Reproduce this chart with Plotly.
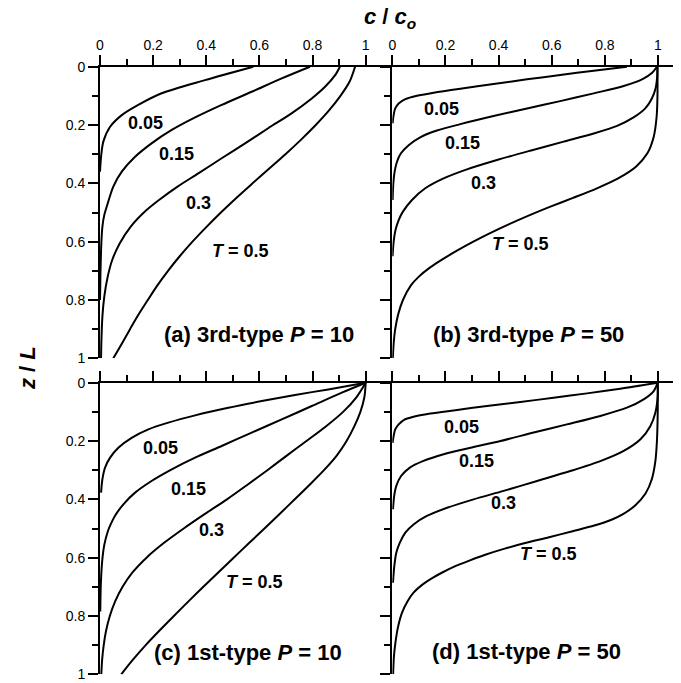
import plotly.graph_objects as go

# ---------------- data ----------------
T_values = ["0.05", "0.15", "0.3", "0.5"]
x_tick_vals = [0, 0.2, 0.4, 0.6, 0.8, 1]
x_tick_text = ["0", "0.2", "0.4", "0.6", "0.8", "1"]
y_tick_vals = [0, 0.2, 0.4, 0.6, 0.8, 1]
y_tick_text = ["0", "0.2", "0.4", "0.6", "0.8", "1"]

# (a) 3rd-type, P = 10
a_c_005 = [0.577, 0.395, 0.232, 0.144, 0.082, 0.038, 0.0125, 0.004, 0.0]
a_z_005 = [0, 0.046, 0.091, 0.131, 0.166, 0.206, 0.257, 0.309, 0.36]
a_c_015 = [0.790, 0.684, 0.571, 0.458, 0.358, 0.270, 0.194, 0.132, 0.082, 0.050, 0.029, 0.016, 0.009, 0.005, 0.0015, 0.0]
a_z_015 = [0, 0.040, 0.086, 0.131, 0.174, 0.217, 0.263, 0.309, 0.360, 0.411, 0.469, 0.509, 0.549, 0.606, 0.72, 0.8]
a_c_03 = [0.903, 0.885, 0.847, 0.797, 0.721, 0.633, 0.546, 0.458, 0.370, 0.292, 0.222, 0.172, 0.115, 0.074, 0.046, 0.029, 0.016, 0.009, 0.005, 0.004]
a_z_03 = [0, 0.029, 0.069, 0.109, 0.16, 0.211, 0.263, 0.314, 0.366, 0.411, 0.457, 0.494, 0.549, 0.606, 0.663, 0.720, 0.789, 0.857, 0.949, 1.0]
a_c_05 = [0.960, 0.940, 0.905, 0.862, 0.812, 0.757, 0.698, 0.636, 0.574, 0.513, 0.455, 0.400, 0.348, 0.300, 0.256, 0.216, 0.180, 0.145, 0.113, 0.082, 0.050]
a_z_05 = [0, 0.05, 0.1, 0.15, 0.2, 0.25, 0.3, 0.35, 0.4, 0.45, 0.5, 0.55, 0.6, 0.65, 0.7, 0.75, 0.8, 0.85, 0.9, 0.95, 1.0]

# (b) 3rd-type, P = 50
b_c_005 = [0.883, 0.758, 0.632, 0.507, 0.381, 0.256, 0.156, 0.093, 0.049, 0.024, 0.011, 0.005, 0.001]
b_z_005 = [0, 0.0137, 0.0286, 0.0434, 0.0594, 0.0754, 0.0891, 0.0994, 0.111, 0.126, 0.143, 0.166, 0.194]
b_c_015 = [0.996, 0.978, 0.940, 0.871, 0.758, 0.632, 0.507, 0.381, 0.256, 0.168, 0.105, 0.0615, 0.0326, 0.0176, 0.0088, 0.0038, 0.0013]
b_z_015 = [0, 0.0206, 0.0434, 0.0663, 0.0914, 0.118, 0.143, 0.169, 0.197, 0.219, 0.242, 0.269, 0.297, 0.326, 0.360, 0.400, 0.457]
b_c_03 = [0.998, 0.997, 0.991, 0.977, 0.952, 0.908, 0.846, 0.758, 0.645, 0.519, 0.394, 0.281, 0.193, 0.124, 0.074, 0.040, 0.024, 0.012, 0.005, 0.001]
b_z_03 = [0, 0.034, 0.074, 0.109, 0.143, 0.174, 0.203, 0.229, 0.257, 0.288, 0.320, 0.352, 0.383, 0.417, 0.457, 0.497, 0.526, 0.56, 0.6, 0.65]
b_c_05 = [0.998, 0.998, 0.995, 0.984, 0.960, 0.917, 0.850, 0.770, 0.680, 0.595, 0.515, 0.440, 0.370, 0.305, 0.245, 0.190, 0.140, 0.100, 0.070, 0.040, 0.022, 0.011, 0.005, 0.002]
b_z_05 = [0, 0.1, 0.17, 0.24, 0.297, 0.343, 0.383, 0.417, 0.45, 0.48, 0.51, 0.54, 0.57, 0.6, 0.63, 0.66, 0.69, 0.72, 0.75, 0.8, 0.85, 0.9, 0.95, 1.0]

# (c) 1st-type, P = 10
c_c_005 = [1.0, 0.859, 0.734, 0.609, 0.483, 0.358, 0.257, 0.182, 0.119, 0.069, 0.038, 0.019, 0.009, 0.004]
c_z_005 = [0, 0.023, 0.042, 0.063, 0.086, 0.112, 0.137, 0.160, 0.189, 0.223, 0.257, 0.291, 0.331, 0.377]
c_c_015 = [1.0, 0.910, 0.797, 0.684, 0.571, 0.458, 0.358, 0.270, 0.194, 0.132, 0.088, 0.056, 0.040, 0.029, 0.016, 0.008, 0.003, 0.001]
c_z_015 = [0, 0.034, 0.080, 0.126, 0.171, 0.217, 0.257, 0.297, 0.337, 0.377, 0.417, 0.457, 0.486, 0.511, 0.557, 0.614, 0.694, 0.785]
c_c_03 = [1.0, 0.965, 0.915, 0.850, 0.777, 0.703, 0.630, 0.555, 0.478, 0.395, 0.315, 0.240, 0.175, 0.123, 0.085, 0.057, 0.037, 0.023, 0.014, 0.008, 0.005]
c_z_03 = [0, 0.05, 0.1, 0.15, 0.2, 0.25, 0.3, 0.35, 0.4, 0.45, 0.5, 0.55, 0.6, 0.65, 0.7, 0.75, 0.8, 0.85, 0.9, 0.95, 1.0]
c_c_05 = [1.0, 0.995, 0.980, 0.957, 0.928, 0.891, 0.843, 0.789, 0.733, 0.676, 0.619, 0.561, 0.503, 0.446, 0.389, 0.333, 0.278, 0.224, 0.172, 0.124, 0.080]
c_z_05 = [0, 0.05, 0.1, 0.15, 0.2, 0.25, 0.3, 0.35, 0.4, 0.45, 0.5, 0.55, 0.6, 0.65, 0.7, 0.75, 0.8, 0.85, 0.9, 0.95, 1.0]

# (d) 1st-type, P = 50
d_c_005 = [1.0, 0.858, 0.733, 0.607, 0.482, 0.356, 0.231, 0.143, 0.080, 0.043, 0.024, 0.011, 0.005, 0.001]
d_z_005 = [0, 0.0206, 0.0366, 0.0514, 0.0663, 0.080, 0.095, 0.106, 0.117, 0.128, 0.143, 0.160, 0.183, 0.206]
d_c_015 = [0.999, 0.984, 0.946, 0.883, 0.783, 0.657, 0.532, 0.407, 0.295, 0.190, 0.115, 0.066, 0.033, 0.015, 0.007, 0.0025]
d_z_015 = [0, 0.0286, 0.0571, 0.0857, 0.114, 0.143, 0.171, 0.2, 0.223, 0.246, 0.269, 0.291, 0.32, 0.354, 0.389, 0.434]
d_c_03 = [0.999, 0.999, 0.990, 0.971, 0.934, 0.871, 0.783, 0.670, 0.545, 0.419, 0.306, 0.206, 0.130, 0.080, 0.049, 0.028, 0.015, 0.0075, 0.0025]
d_z_03 = [0, 0.046, 0.103, 0.149, 0.194, 0.234, 0.269, 0.303, 0.337, 0.371, 0.400, 0.429, 0.457, 0.486, 0.514, 0.549, 0.583, 0.629, 0.686]
d_c_05 = [0.999, 0.999, 0.996, 0.990, 0.977, 0.953, 0.915, 0.870, 0.825, 0.760, 0.675, 0.590, 0.500, 0.420, 0.350, 0.290, 0.235, 0.190, 0.150, 0.117, 0.080, 0.057, 0.036, 0.021, 0.012, 0.006, 0.003]
d_z_05 = [0, 0.1, 0.2, 0.27, 0.33, 0.38, 0.42, 0.45, 0.47, 0.49, 0.51, 0.53, 0.55, 0.57, 0.59, 0.61, 0.63, 0.65, 0.67, 0.69, 0.72, 0.75, 0.79, 0.84, 0.89, 0.94, 1.0]

panel_titles = ["(a) 3rd-type <i>P</i> = 10", "(b) 3rd-type <i>P</i> = 50",
                "(c) 1st-type <i>P</i> = 10", "(d) 1st-type <i>P</i> = 50"]

panels = [
    [(a_c_005, a_z_005), (a_c_015, a_z_015), (a_c_03, a_z_03), (a_c_05, a_z_05)],
    [(b_c_005, b_z_005), (b_c_015, b_z_015), (b_c_03, b_z_03), (b_c_05, b_z_05)],
    [(c_c_005, c_z_005), (c_c_015, c_z_015), (c_c_03, c_z_03), (c_c_05, c_z_05)],
    [(d_c_005, d_z_005), (d_c_015, d_z_015), (d_c_03, d_z_03), (d_c_05, d_z_05)],
]

# label positions (c, z) in each panel for T labels and panel title
label_pos = [
    [(0.173, 0.192), (0.289, 0.299), (0.369, 0.466), (0.527, 0.632)],
    [(0.186, 0.146), (0.265, 0.263), (0.342, 0.400), (0.481, 0.608)],
    [(0.226, 0.223), (0.332, 0.366), (0.420, 0.505), (0.583, 0.682)],
    [(0.261, 0.151), (0.318, 0.269), (0.418, 0.412), (0.587, 0.588)],
]
title_pos = [(0.598, 0.92), (0.514, 0.92), (0.557, 0.925), (0.506, 0.922)]

# ---------------- layout geometry ----------------
W, H = 681, 683
OFF = 8.0   # page body margin of the browser
x0_left, x_unit = 100.0 - OFF, 265.7
x0_right = 392.3 - OFF
top_y0, bot_y0, y_unit = 66.7 - OFF, 382.7 - OFF, 291.6

FONT = "Liberation Sans, Arial, Helvetica, sans-serif"

fig = go.Figure()
for i, curves in enumerate(panels):
    suffix = "" if i == 0 else str(i + 1)
    for c_vals, z_vals in curves:
        fig.add_trace(go.Scatter(
            x=c_vals, y=z_vals, mode="lines",
            line=dict(color="black", width=2, shape="spline", smoothing=0.8),
            xaxis="x" + suffix, yaxis="y" + suffix, showlegend=False,
            hoverinfo="skip"))

def xaxis(domain, rng, labels, anchor):
    return dict(domain=domain, range=rng, anchor=anchor, side="top",
                automargin=False,
                showline=True, linecolor="black", linewidth=2,
                ticks="outside", ticklen=10, tickwidth=1.5, tickcolor="black",
                tickvals=x_tick_vals, ticktext=x_tick_text,
                showticklabels=labels, ticklabelstandoff=-1,
                minor=dict(dtick=0.1, tick0=0, ticks="outside", ticklen=6,
                           tickwidth=1.5, tickcolor="black"),
                showgrid=False, zeroline=False,
                tickfont=dict(family=FONT, size=14, color="black"))

def yaxis(domain, labels, anchor):
    return dict(domain=domain, range=[1, 0], anchor=anchor,
                automargin=False,
                showline=True, linecolor="black", linewidth=2,
                ticks="outside", ticklen=10, tickwidth=1.5, tickcolor="black",
                tickvals=y_tick_vals, ticktext=y_tick_text,
                showticklabels=labels,
                minor=dict(dtick=0.1, tick0=0, ticks="outside", ticklen=6,
                           tickwidth=1.5, tickcolor="black"),
                showgrid=False, zeroline=False,
                tickfont=dict(family=FONT, size=14, color="black"))

xd_left = [x0_left / W, x0_right / W]
xd_right = [x0_right / W, 1.0]
r_left = [0, (x0_right - x0_left) / x_unit]
r_right = [0, (W - x0_right) / x_unit]
yd_top = [1 - (top_y0 + y_unit) / H, 1 - top_y0 / H]
yd_bot = [1 - (bot_y0 + y_unit) / H, 1 - bot_y0 / H]

annotations = []
for i in range(4):
    suffix = "" if i == 0 else str(i + 1)
    for j, (cx, zy) in enumerate(label_pos[i]):
        txt = "<b>" + T_values[j] + "</b>" if j < 3 else "<b><i>T</i> = " + T_values[j] + "</b>"
        annotations.append(dict(x=cx, y=zy, xref="x" + suffix, yref="y" + suffix,
                                xanchor="center", yanchor="middle",
                                text=txt, showarrow=False,
                                font=dict(family=FONT, size=18, color="black")))
    tx, ty = title_pos[i]
    annotations.append(dict(x=tx, y=ty, xref="x" + suffix, yref="y" + suffix,
                            xanchor="center", yanchor="middle",
                            text="<b>" + panel_titles[i] + "</b>", showarrow=False,
                            font=dict(family=FONT, size=22, color="black")))

annotations.append(dict(x=(390 - OFF) / W, y=1 - (18 - OFF) / H, xref="paper", yref="paper",
                        xanchor="center", yanchor="middle",
                        text="<b><i>c</i> / <i>c<sub>o</sub></i></b>", showarrow=False,
                        font=dict(family=FONT, size=22, color="black")))
annotations.append(dict(x=(27 - OFF) / W, y=1 - (368 - OFF) / H, xref="paper", yref="paper",
                        xanchor="center", yanchor="middle",
                        text="<b><i>z</i> / <i>L</i></b>", showarrow=False, textangle=-90,
                        font=dict(family=FONT, size=22, color="black")))

fig.update_layout(
    width=W, height=H, margin=dict(l=0, r=0, t=0, b=0, autoexpand=False),
    paper_bgcolor="white", plot_bgcolor="white",
    xaxis=xaxis(xd_left, r_left, True, "y"),
    yaxis=yaxis(yd_top, True, "x"),
    xaxis2=xaxis(xd_right, r_right, True, "y2"),
    yaxis2=yaxis(yd_top, False, "x2"),
    xaxis3=xaxis(xd_left, r_left, False, "y3"),
    yaxis3=yaxis(yd_bot, True, "x3"),
    xaxis4=xaxis(xd_right, r_right, False, "y4"),
    yaxis4=yaxis(yd_bot, False, "x4"),
    annotations=annotations,
)

fig.write_html("out.html")
